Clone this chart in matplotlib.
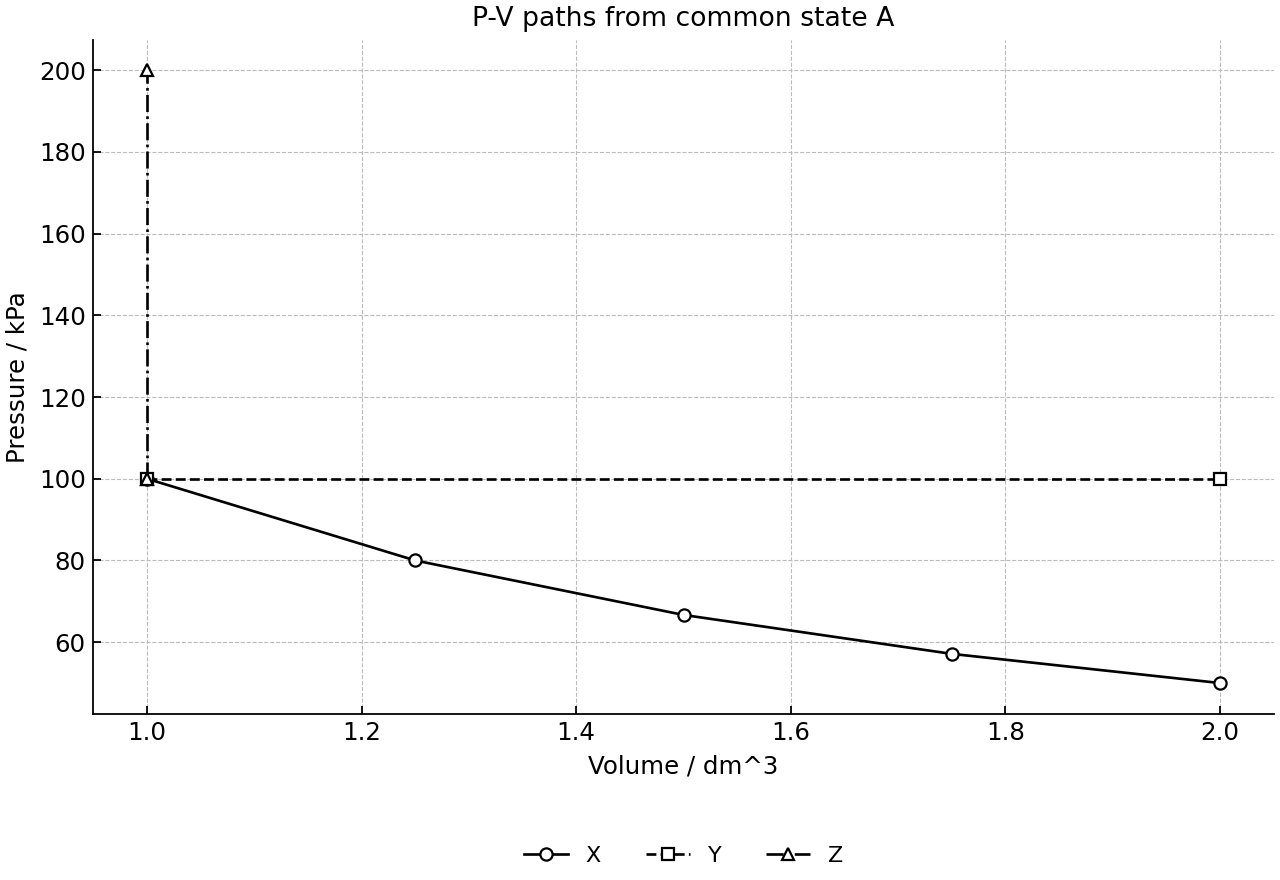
import numpy as np
import matplotlib.pyplot as plt

# path data (volume in dm^3, pressure in kPa)
V_X = [1.0, 1.25, 1.5, 1.75, 2.0]
P_X = [100.0, 80.0, 66.67, 57.14, 50.0]

V_Y = [1.0, 2.0]
P_Y = [100.0, 100.0]

V_Z = [1.0, 1.0]
P_Z = [100.0, 200.0]

fig, ax = plt.subplots(figsize=(8, 5.5), dpi=160)

kw = dict(color="black", mfc="white", lw=1.2, ms=5.5, mew=1.0)
ax.plot(V_X, P_X, "-", marker="o", label="X", **kw)
ax.plot(V_Y, P_Y, "--", marker="s", label="Y", **kw)
ax.plot(V_Z, P_Z, "-.", marker="^", label="Z", **kw)

ax.set_title("P-V paths from common state A", fontsize=12)
ax.set_xlabel("Volume / dm^3", fontsize=11)
ax.set_ylabel("Pressure / kPa", fontsize=11)

ax.grid(True, linestyle="--", color="#bbbbbb", linewidth=0.5)
ax.tick_params(direction="in", labelsize=11)
ax.spines["top"].set_visible(False)
ax.spines["right"].set_visible(False)

ax.legend(loc="upper center", bbox_to_anchor=(0.5, -0.166), ncol=3, frameon=False, fontsize=10)

fig.subplots_adjust(left=0.073, right=0.995, top=0.955, bottom=0.189)
fig.savefig("out.png", dpi=160)
